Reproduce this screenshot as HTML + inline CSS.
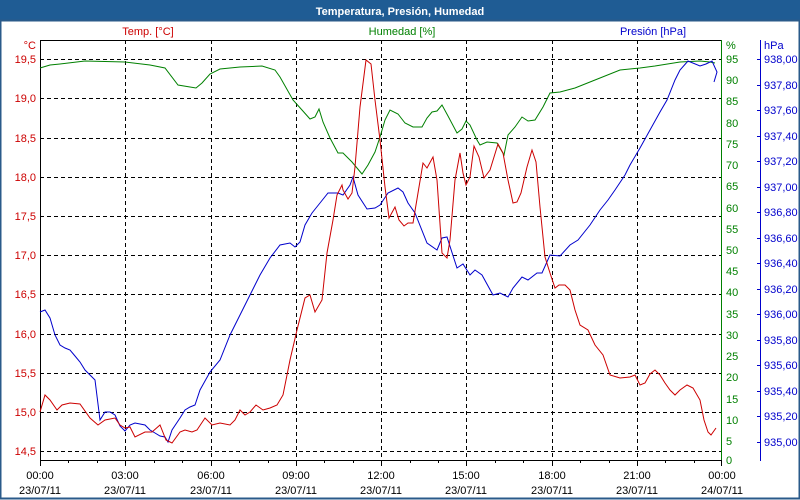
<!DOCTYPE html>
<html><head><meta charset="utf-8"><style>
html,body{margin:0;padding:0;background:#fff}
svg{display:block}
text{font-family:"Liberation Sans","DejaVu Sans",sans-serif;font-size:11px}
</style></head><body>
<svg width="800" height="500" viewBox="0 0 800 500" xmlns="http://www.w3.org/2000/svg">
<rect x="0" y="0" width="800" height="500" fill="#fff"/>
<rect x="0" y="0" width="800" height="21" fill="#1f5c94"/>
<text x="400" y="15" text-anchor="middle" fill="#fff" font-weight="bold" font-size="12">Temperatura, Presión, Humedad</text>
<rect x="0.5" y="20.5" width="799" height="478" fill="none" stroke="#2a5a8a" stroke-width="2"/>
<g stroke="#000" stroke-dasharray="4,3" stroke-width="1">
<line x1="125.5" y1="40" x2="125.5" y2="460"/><line x1="211.5" y1="40" x2="211.5" y2="460"/>
<line x1="296.5" y1="40" x2="296.5" y2="460"/><line x1="381.5" y1="40" x2="381.5" y2="460"/>
<line x1="466.5" y1="40" x2="466.5" y2="460"/><line x1="552.5" y1="40" x2="552.5" y2="460"/>
<line x1="637.5" y1="40" x2="637.5" y2="460"/>
<line x1="40" y1="59.5" x2="721" y2="59.5"/><line x1="40" y1="98.5" x2="721" y2="98.5"/>
<line x1="40" y1="138.5" x2="721" y2="138.5"/><line x1="40" y1="177.5" x2="721" y2="177.5"/>
<line x1="40" y1="216.5" x2="721" y2="216.5"/><line x1="40" y1="255.5" x2="721" y2="255.5"/>
<line x1="40" y1="294.5" x2="721" y2="294.5"/><line x1="40" y1="334.5" x2="721" y2="334.5"/>
<line x1="40" y1="373.5" x2="721" y2="373.5"/><line x1="40" y1="412.5" x2="721" y2="412.5"/>
<line x1="40" y1="451.5" x2="721" y2="451.5"/>
</g>
<line x1="40" y1="40.5" x2="721" y2="40.5" stroke="#000"/>
<line x1="40.5" y1="40" x2="40.5" y2="460" stroke="#000"/>
<line x1="40" y1="460.5" x2="721" y2="460.5" stroke="#000"/>
<line x1="721.5" y1="40" x2="721.5" y2="461" stroke="#008000"/>
<line x1="760.5" y1="40" x2="760.5" y2="461" stroke="#0000cc"/>
<g stroke="#000">
<line x1="40.5" y1="460" x2="40.5" y2="466"/><line x1="68.5" y1="460" x2="68.5" y2="463"/><line x1="97.5" y1="460" x2="97.5" y2="463"/>
<line x1="125.5" y1="460" x2="125.5" y2="466"/><line x1="154.5" y1="460" x2="154.5" y2="463"/><line x1="182.5" y1="460" x2="182.5" y2="463"/>
<line x1="211.5" y1="460" x2="211.5" y2="466"/><line x1="239.5" y1="460" x2="239.5" y2="463"/><line x1="268.5" y1="460" x2="268.5" y2="463"/>
<line x1="296.5" y1="460" x2="296.5" y2="466"/><line x1="324.5" y1="460" x2="324.5" y2="463"/><line x1="353.5" y1="460" x2="353.5" y2="463"/>
<line x1="381.5" y1="460" x2="381.5" y2="466"/><line x1="410.5" y1="460" x2="410.5" y2="463"/><line x1="438.5" y1="460" x2="438.5" y2="463"/>
<line x1="466.5" y1="460" x2="466.5" y2="466"/><line x1="495.5" y1="460" x2="495.5" y2="463"/><line x1="523.5" y1="460" x2="523.5" y2="463"/>
<line x1="552.5" y1="460" x2="552.5" y2="466"/><line x1="580.5" y1="460" x2="580.5" y2="463"/><line x1="609.5" y1="460" x2="609.5" y2="463"/>
<line x1="637.5" y1="460" x2="637.5" y2="466"/><line x1="665.5" y1="460" x2="665.5" y2="463"/><line x1="694.5" y1="460" x2="694.5" y2="463"/>
<line x1="721.5" y1="460" x2="721.5" y2="466"/>
</g>
<g fill="#000" text-anchor="middle">
<text x="40" y="479">00:00</text><text x="40" y="494">23/07/11</text>
<text x="125" y="479">03:00</text><text x="125" y="494">23/07/11</text>
<text x="211" y="479">06:00</text><text x="211" y="494">23/07/11</text>
<text x="296" y="479">09:00</text><text x="296" y="494">23/07/11</text>
<text x="381" y="479">12:00</text><text x="381" y="494">23/07/11</text>
<text x="466" y="479">15:00</text><text x="466" y="494">23/07/11</text>
<text x="552" y="479">18:00</text><text x="552" y="494">23/07/11</text>
<text x="637" y="479">21:00</text><text x="637" y="494">23/07/11</text>
<text x="722" y="479">00:00</text><text x="722" y="494">24/07/11</text>
</g>
<g fill="#cc0000" text-anchor="end">
<text x="36" y="49">°C</text>
<text x="36" y="63">19,5</text><text x="36" y="102">19,0</text><text x="36" y="142">18,5</text>
<text x="36" y="181">18,0</text><text x="36" y="220">17,5</text><text x="36" y="259">17,0</text>
<text x="36" y="298">16,5</text><text x="36" y="338">16,0</text><text x="36" y="377">15,5</text>
<text x="36" y="416">15,0</text><text x="36" y="455">14,5</text>
</g>
<text x="148" y="35" fill="#cc0000" text-anchor="middle">Temp. [°C]</text>
<text x="402" y="35" fill="#008000" text-anchor="middle">Humedad [%]</text>
<text x="653" y="35" fill="#0000cc" text-anchor="middle">Presión [hPa]</text>
<g fill="#008000">
<text x="726" y="49">%</text>
<text x="726" y="63">95</text><text x="726" y="84">90</text><text x="726" y="105">85</text><text x="726" y="127">80</text>
<text x="726" y="148">75</text><text x="726" y="169">70</text><text x="726" y="190">65</text><text x="726" y="212">60</text>
<text x="726" y="233">55</text><text x="726" y="254">50</text><text x="726" y="275">45</text><text x="726" y="296">40</text>
<text x="726" y="318">35</text><text x="726" y="339">30</text><text x="726" y="360">25</text><text x="726" y="381">20</text>
<text x="726" y="403">15</text><text x="726" y="424">10</text><text x="726" y="445">5</text><text x="726" y="464">0</text>
</g>
<g fill="#0000cc">
<text x="764" y="49">hPa</text>
<text x="764" y="63">938,00</text><text x="764" y="89">937,80</text><text x="764" y="114">937,60</text>
<text x="764" y="140">937,40</text><text x="764" y="165">937,20</text><text x="764" y="191">937,00</text>
<text x="764" y="216">936,80</text><text x="764" y="242">936,60</text><text x="764" y="267">936,40</text>
<text x="764" y="293">936,20</text><text x="764" y="318">936,00</text><text x="764" y="344">935,80</text>
<text x="764" y="369">935,60</text><text x="764" y="395">935,40</text><text x="764" y="420">935,20</text>
<text x="764" y="446">935,00</text>
</g>
<g stroke="#0000cc">
<line x1="757" y1="59.5" x2="760" y2="59.5"/><line x1="757" y1="85.5" x2="760" y2="85.5"/><line x1="757" y1="110.5" x2="760" y2="110.5"/>
<line x1="757" y1="136.5" x2="760" y2="136.5"/><line x1="757" y1="161.5" x2="760" y2="161.5"/><line x1="757" y1="187.5" x2="760" y2="187.5"/>
<line x1="757" y1="212.5" x2="760" y2="212.5"/><line x1="757" y1="238.5" x2="760" y2="238.5"/><line x1="757" y1="263.5" x2="760" y2="263.5"/>
<line x1="757" y1="289.5" x2="760" y2="289.5"/><line x1="757" y1="314.5" x2="760" y2="314.5"/><line x1="757" y1="340.5" x2="760" y2="340.5"/>
<line x1="757" y1="365.5" x2="760" y2="365.5"/><line x1="757" y1="391.5" x2="760" y2="391.5"/><line x1="757" y1="416.5" x2="760" y2="416.5"/>
<line x1="757" y1="442.5" x2="760" y2="442.5"/>
</g>
<polyline fill="none" stroke="#008000" stroke-width="1" points="40,68 50,65 60,64 85,61 125,62 150,65 165,68 178,85 190,87 196,88 202,83 210,74 220,69 240,67 262,66 275,70 280,77 293,100 302,110 310,119 315,117 319,109 323,122 330,138 338,153 343,153 352,162 362,174 368,165 375,152 380,137 385,120 390,110 398,114 405,123 413,127 422,127 427,118 432,112 437,111 442,105 448,116 457,133 462,129 466,121 470,125 477,140 480,145 487,142 497,143 504,155 508,135 515,127 522,117 528,121 535,120 543,107 550,93 560,92 575,88 595,80 620,70 640,68 655,66 680,62 700,61 710,62 715,63"/>
<polyline fill="none" stroke="#0000cc" stroke-width="1" points="40,312 45,310 50,318 55,335 60,345 65,348 70,350 75,356 80,362 85,370 90,375 95,380 100,420 105,412 110,412 115,415 120,426 125,431 130,425 135,423 140,424 145,425 150,430 155,433 160,436 165,437 168,442 172,430 180,418 185,410 190,407 195,405 200,390 210,372 220,360 230,335 240,315 250,295 260,275 270,258 280,245 290,243 295,247 300,242 305,225 312,213 320,203 328,193 338,193 343,195 350,185 353,177 358,195 367,209 375,208 380,205 388,193 398,188 403,192 408,203 415,213 427,243 437,250 442,238 447,237 457,268 463,264 470,275 475,270 482,275 493,295 500,293 508,297 513,288 522,277 528,280 537,273 542,273 550,255 560,256 570,245 578,240 590,225 600,210 608,200 615,190 625,175 630,165 640,148 650,130 660,112 667,100 675,80 680,70 688,61 700,66 706,64 712,61 717,72 714,82"/>
<polyline fill="none" stroke="#cc0000" stroke-width="1" points="40,412 45,395 50,400 57,410 62,405 70,403 80,404 90,418 98,425 105,420 115,418 120,425 125,428 130,427 135,437 145,432 152,432 160,425 166,440 172,443 180,432 185,430 192,432 197,430 205,418 212,425 220,423 230,425 235,420 240,410 245,415 250,412 256,405 263,410 270,408 277,405 283,395 290,360 297,330 305,298 310,295 315,312 322,300 327,253 333,220 337,195 342,185 343,190 348,199 352,193 355,167 360,107 366,60 371,64 375,100 380,140 385,187 389,218 395,207 399,220 404,226 408,223 413,223 418,193 423,163 427,168 433,157 437,180 442,253 447,258 450,240 455,180 460,153 463,173 466,185 470,177 474,146 479,157 484,178 490,170 498,144 503,153 508,180 513,203 517,202 521,193 527,167 532,150 536,162 540,207 545,257 550,273 555,288 559,285 565,285 570,290 575,310 580,325 588,330 595,345 603,355 610,375 620,378 630,377 635,375 640,385 645,383 650,374 655,370 660,375 665,383 670,390 675,395 680,390 687,385 693,388 700,400 704,420 708,432 711,435 716,428"/>
</svg>
</body></html>
